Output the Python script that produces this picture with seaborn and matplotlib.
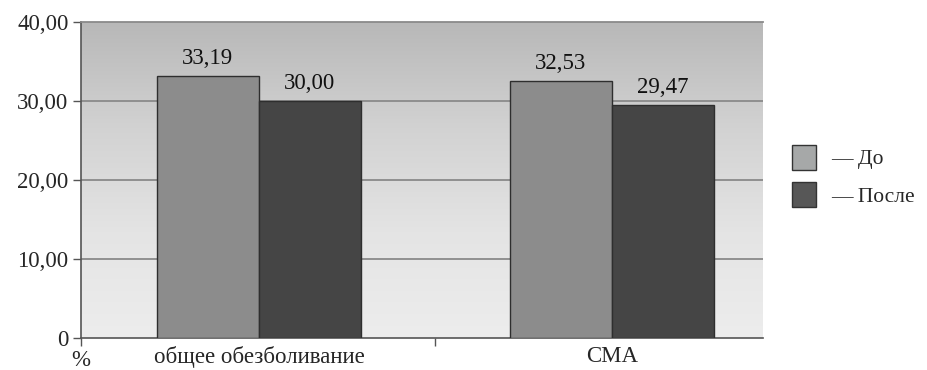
import numpy as np
import pandas as pd
import matplotlib
matplotlib.use("Agg")
import matplotlib.pyplot as plt
from matplotlib.patches import Patch
from matplotlib.ticker import FixedLocator, FuncFormatter
import seaborn as sns

# Data
categories = ["общее обезболивание", "СМА"]
series_names = ["До", "После"]
before_vals = [33.19, 32.53]
after_vals = [30.00, 29.47]
y_ticks = [0, 10, 20, 30, 40]

df = pd.DataFrame({
    "cat": categories * 2,
    "series": [series_names[0]] * 2 + [series_names[1]] * 2,
    "value": before_vals + after_vals,
})

sns.set_theme(style="white")
plt.rcParams["font.family"] = ["Liberation Serif", "DejaVu Serif"]
FS = 16.5

fig = plt.figure(figsize=(9.28, 3.70), dpi=100)
ax = fig.add_axes([81 / 928, 32 / 370, 682 / 928, 316 / 370])

# gradient background of the plotting area
grad = np.linspace(0, 1, 256).reshape(-1, 1)
cmap = matplotlib.colors.LinearSegmentedColormap.from_list(
    "bg", ["#ededed", "#e4e4e4", "#d2d2d2", "#b8b8b8"])
ax.imshow(grad, aspect="auto", cmap=cmap, origin="lower",
          extent=[0, 1, 0, 1], transform=ax.transAxes, zorder=0)

bar_colors = ["#8c8c8c", "#454545"]
sns.barplot(data=df, x="cat", y="value", hue="series", order=categories,
            hue_order=series_names, palette=bar_colors, width=0.578,
            edgecolor="#2e2e2e", linewidth=1.0, ax=ax, zorder=3,
            legend=False)

ax.set_xlim(-0.504, 1.428)
ax.set_ylim(0, 40)

# horizontal gridlines
for yv in y_ticks[1:-1]:
    ax.axhline(yv, color="#8a8a8a", lw=1.3, zorder=1)

# value labels
for cont in ax.containers:
    ax.bar_label(cont, labels=[f"{v:.2f}".replace(".", ",") for v in cont.datavalues],
                 padding=5, fontsize=FS, color="#111111")

# axes styling
ax.spines["right"].set_visible(False)
ax.spines["top"].set_color("#8a8a8a")
ax.spines["top"].set_linewidth(1.3)
for s in ["left", "bottom"]:
    ax.spines[s].set_color("#555555")
    ax.spines[s].set_linewidth(1.2)

ax.yaxis.set_major_locator(FixedLocator(y_ticks))
ax.yaxis.set_major_formatter(FuncFormatter(
    lambda v, p: "0" if v == 0 else f"{v:.2f}".replace(".", ",")))
ax.tick_params(axis="y", which="major", direction="out", length=6, width=1,
               color="#555555", labelsize=FS, pad=3, left=True)

ax.set_xticks([0, 1])
ax.set_xticklabels(categories)
ax.tick_params(axis="x", which="major", length=0, labelsize=FS, pad=6)
ax.xaxis.set_minor_locator(FixedLocator([-0.504, 0.5]))
ax.tick_params(axis="x", which="minor", direction="out", length=6, width=1,
               color="#555555", bottom=True)
ax.set_xlabel("")
ax.set_ylabel("")

fig.text(81 / 928, 1 - 366 / 370, "%", fontsize=FS, ha="center", va="baseline")

handles = [Patch(facecolor="#a6a8a8", edgecolor="#333333", label="— До"),
           Patch(facecolor="#575757", edgecolor="#333333", label="— После")]
fig.legend(handles=handles, loc="center left", bbox_to_anchor=(777 / 928, 1 - 176 / 370),
           frameon=False, fontsize=15.5, handlelength=1.1, handleheight=1.4,
           handletextpad=0.7, labelspacing=0.6, borderpad=0.2)

fig.savefig("out.png", dpi=100, facecolor="white")
